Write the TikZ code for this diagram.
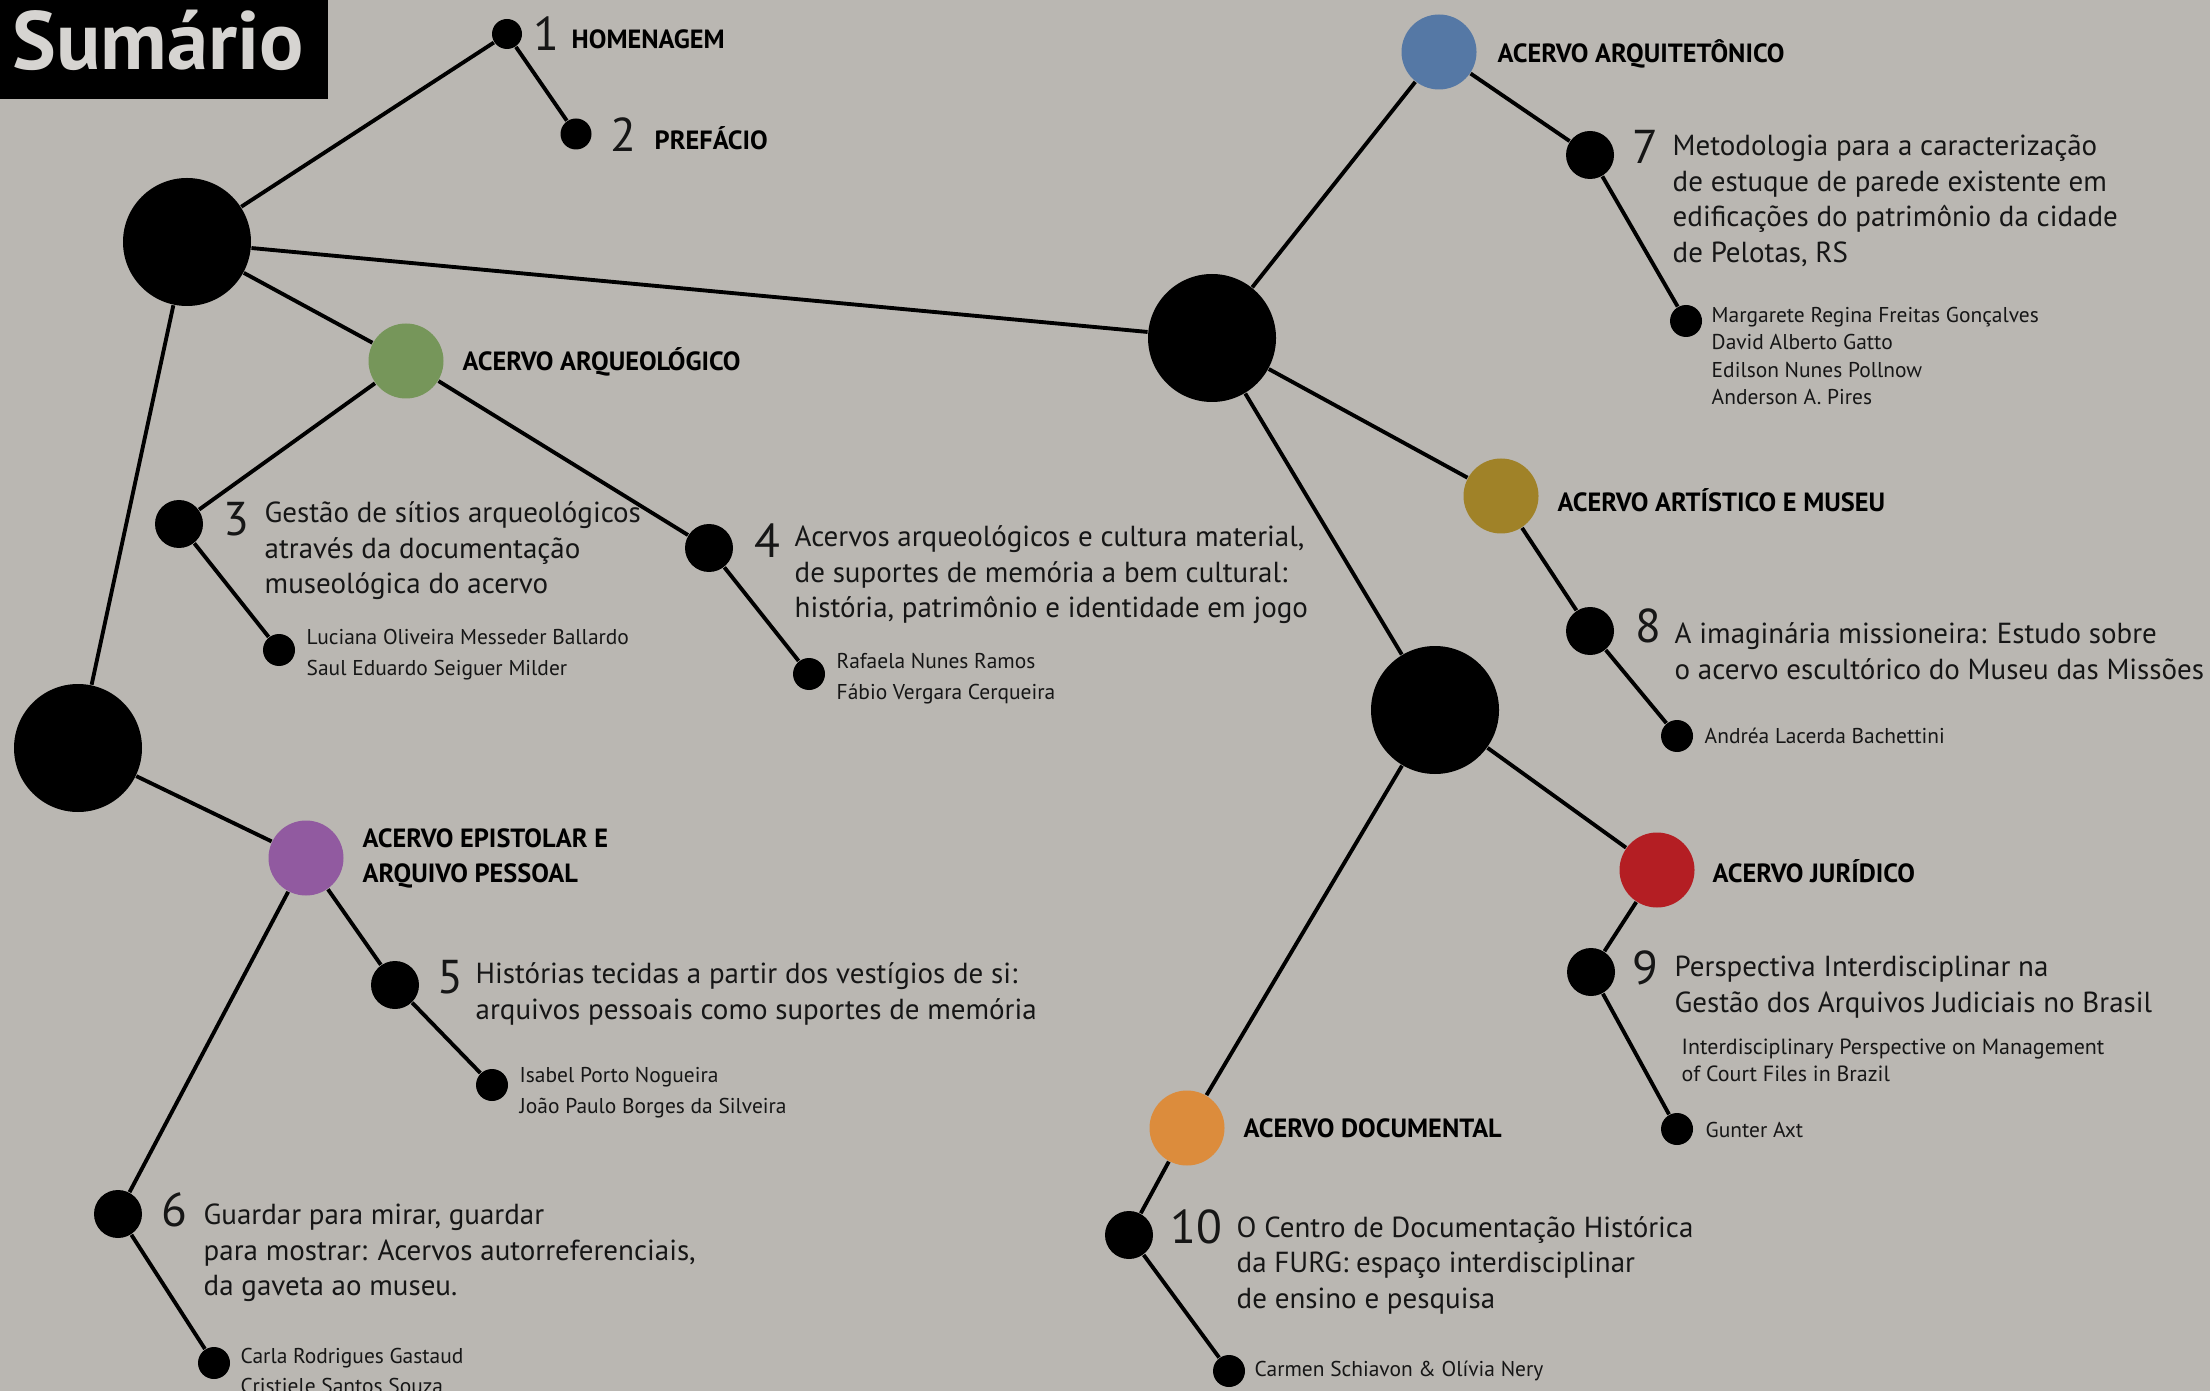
\documentclass[tikz,border=0pt]{standalone}
\usepackage{fontspec}
\setmainfont{PT Sans}
\usepackage{tikz}

\definecolor{bgc}{HTML}{BAB7B2}
\definecolor{ink}{HTML}{161616}
\definecolor{arqgreen}{HTML}{76965A}
\definecolor{episviolet}{HTML}{915AA0}
\definecolor{arqblue}{HTML}{5578A5}
\definecolor{artgold}{HTML}{A08228}
\definecolor{jurred}{HTML}{B41E23}
\definecolor{docorange}{HTML}{DC8C3C}

\begin{document}
\begin{tikzpicture}[x=0.1mm,y=-0.1mm,
  hub/.style={circle,fill=black,minimum size=12.8mm,inner sep=0},
  cat/.style={circle,fill=#1,minimum size=7.5mm,inner sep=0},
  item/.style={circle,fill=black,minimum size=4.8mm,inner sep=0},
  aut/.style={circle,fill=black,minimum size=3.2mm,inner sep=0},
  pre/.style={circle,fill=black,minimum size=3mm,inner sep=0},
  link/.style={line width=1.1pt,black},
  catlbl/.style={anchor=west,inner sep=0,align=left,text=black,font=\bfseries\fontsize{7.5}{10}\selectfont},
  numlbl/.style={anchor=west,inner sep=0,text=ink,font=\fontsize{13.5}{14}\selectfont},
  ttl/.style={anchor=west,inner sep=0,align=left,text=ink,font=\fontsize{8.25}{10.1}\selectfont},
  autlbl/.style={anchor=west,inner sep=0,align=left,text=ink,font=\fontsize{6.1}{8.8}\selectfont}]
\useasboundingbox (0,0) rectangle (2210,1391);
\clip (0,0) rectangle (2210,1391);
\fill[bgc] (0,0) rectangle (2210,1391);
\fill[black] (0,0) rectangle (328,99);
\node[text=bgc!60!white,font=\bfseries\fontsize{23.5}{25}\selectfont,inner sep=0] (title) at (158,40) {Sumário};

% circles
\node[hub] (h1) at (187,242) {};
\node[hub] (h2) at (78,748) {};
\node[hub] (h3) at (1212,338) {};
\node[hub] (h4) at (1435,710) {};
\node[pre] (d1) at (507,34) {};
\node[pre,minimum size=3.1mm] (d2) at (576,134) {};
\node[cat=arqgreen] (arq) at (406,361) {};
\node[item] (d3) at (179,524) {};
\node[aut] (a3) at (279,650) {};
\node[item] (d4) at (709,548) {};
\node[aut] (a4) at (809,674) {};
\node[cat=episviolet] (epi) at (306,858) {};
\node[item] (d5) at (395,985) {};
\node[aut] (a5) at (492,1085) {};
\node[item] (d6) at (118,1214) {};
\node[aut] (a6) at (214,1363) {};
\node[cat=arqblue] (arc) at (1439,52) {};
\node[item] (d7) at (1590,155) {};
\node[aut] (a7) at (1686,321) {};
\node[cat=artgold] (art) at (1501,496) {};
\node[item] (d8) at (1590,631) {};
\node[aut] (a8) at (1677,736) {};
\node[cat=jurred] (jur) at (1657,870) {};
\node[item] (d9) at (1591,972) {};
\node[aut] (a9) at (1677,1129) {};
\node[cat=docorange] (doc) at (1187,1128) {};
\node[item] (d10) at (1129,1235) {};
\node[aut] (a10) at (1229,1371) {};

% links
\draw[link] (h1) -- (d1);
\draw[link] (d1) -- (d2);
\draw[link] (h1) -- (arq);
\draw[link] (h1) -- (h3);
\draw[link] (h1) -- (h2);
\draw[link] (arq) -- (d3);
\draw[link] (d3) -- (a3);
\draw[link] (arq) -- (d4);
\draw[link] (d4) -- (a4);
\draw[link] (h2) -- (epi);
\draw[link] (epi) -- (d5);
\draw[link] (d5) -- (a5);
\draw[link] (epi) -- (d6);
\draw[link] (d6) -- (a6);
\draw[link] (h3) -- (arc);
\draw[link] (arc) -- (d7);
\draw[link] (d7) -- (a7);
\draw[link] (h3) -- (art);
\draw[link] (art) -- (d8);
\draw[link] (d8) -- (a8);
\draw[link] (h3) -- (h4);
\draw[link] (h4) -- (jur);
\draw[link] (jur) -- (d9);
\draw[link] (d9) -- (a9);
\draw[link] (h4) -- (doc);
\draw[link] (doc) -- (d10);
\draw[link] (d10) -- (a10);

% labels
\node[numlbl] (n1) at (533,34) {1};
\node[catlbl] (l1) at (571,39) {HOMENAGEM};
\node[numlbl] (n2) at (610,135) {2};
\node[catlbl] (l2) at (654,138) {PREFÁCIO};

\node[catlbl] (larq) at (462,362) {ACERVO ARQUEOLÓGICO};
\node[numlbl] (n3) at (223,519) {3};
\node[ttl] (t3) at (264,551) {Gestão de sítios arqueológicos\\através da documentação\\museológica do acervo};
\node[autlbl] (au3) at (306,655) {Luciana Oliveira Messeder Ballardo\\Saul Eduardo Seiguer Milder};
\node[numlbl] (n4) at (754,541) {4};
\node[ttl] (t4) at (794,575) {Acervos arqueológicos e cultura material,\\de suportes de memória a bem cultural:\\história, patrimônio e identidade em jogo};
\node[autlbl] (au4) at (836,679) {Rafaela Nunes Ramos\\Fábio Vergara Cerqueira};

\node[catlbl] (lepi) at (362,858) {ACERVO EPISTOLAR E\\ARQUIVO PESSOAL};
\node[numlbl] (n5) at (437,977) {5};
\node[ttl] (t5) at (475,994) {Histórias tecidas a partir dos vestígios de si:\\arquivos pessoais como suportes de memória};
\node[autlbl] (au5) at (519,1093) {Isabel Porto Nogueira\\João Paulo Borges da Silveira};
\node[numlbl] (n6) at (161,1210) {6};
\node[ttl] (t6) at (203,1253) {Guardar para mirar, guardar\\para mostrar: Acervos autorreferenciais,\\da gaveta ao museu.};
\node[autlbl] (au6) at (240,1371) {Carla Rodrigues Gastaud\\Cristiele Santos Souza};

\node[catlbl] (larc) at (1497,54) {ACERVO ARQUITETÔNICO};
\node[numlbl] (n7) at (1632,147) {7};
\node[ttl] (t7) at (1672,201) {Metodologia para a caracterização\\de estuque de parede existente em\\edificações do patrimônio da cidade\\de Pelotas, RS};
\node[autlbl,font=\fontsize{6.1}{7.7}\selectfont] (au7) at (1711,356) {Margarete Regina Freitas Gonçalves\\David Alberto Gatto\\Edilson Nunes Pollnow\\Anderson A. Pires};

\node[catlbl] (lart) at (1557,500) {ACERVO ARTÍSTICO E MUSEU};
\node[numlbl] (n8) at (1635,626) {8};
\node[ttl] (t8) at (1674,651) {A imaginária missioneira: Estudo sobre\\o acervo escultórico do Museu das Missões};
\node[autlbl] (au8) at (1704,736) {Andréa Lacerda Bachettini};

\node[catlbl] (ljur) at (1712,871) {ACERVO JURÍDICO};
\node[numlbl] (n9) at (1632,968) {9};
\node[ttl] (t9) at (1674,987) {Perspectiva Interdisciplinar na\\Gestão dos Arquivos Judiciais no Brasil};
\node[autlbl,font=\fontsize{6.25}{7.7}\selectfont] (e9) at (1681,1060) {Interdisciplinary Perspective on Management\\of Court Files in Brazil};
\node[autlbl] (au9) at (1705,1130) {Gunter Axt};

\node[catlbl] (ldoc) at (1243,1128) {ACERVO DOCUMENTAL};
\node[numlbl] (n10) at (1170,1227) {10};
\node[ttl] (t10) at (1236,1265) {O Centro de Documentação Histórica\\da FURG: espaço interdisciplinar\\de ensino e pesquisa};
\node[autlbl] (au10) at (1254,1371) {Carmen Schiavon \& Olívia Nery};
\end{tikzpicture}
\end{document}
